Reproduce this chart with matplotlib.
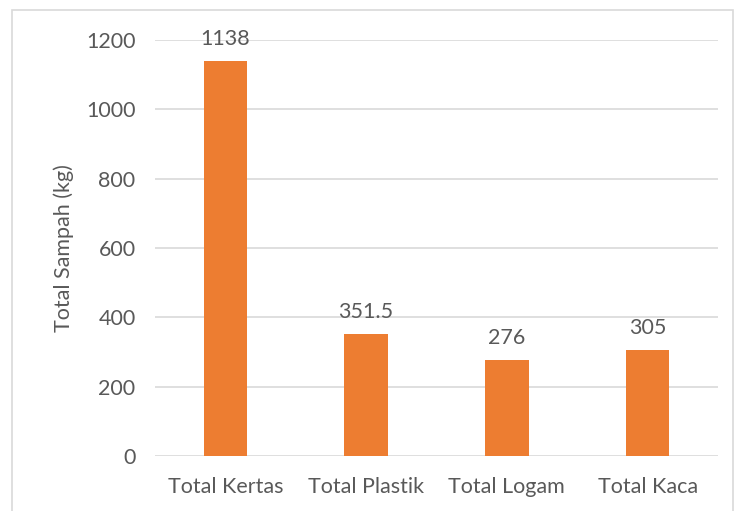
import matplotlib.pyplot as plt
from matplotlib.patches import Rectangle

categories = ["Total Kertas", "Total Plastik", "Total Logam", "Total Kaca"]
values = [1138, 351.5, 276, 305]
labels = ["1138", "351.5", "276", "305"]
yticks = [0, 200, 400, 600, 800, 1000, 1200]

ORANGE = "#ed7d31"
TEXT = "#595959"
GRID = "#d9d9d9"
FS = 15.5

plt.rcParams["font.family"] = ["Lato", "DejaVu Sans"]

fig = plt.figure(figsize=(7.35, 5.11), dpi=100)
ax = fig.add_axes([155 / 735, 1 - 456 / 511, 563 / 735, 416 / 511])

x = range(len(categories))
ax.bar(x, values, width=0.31, color=ORANGE, zorder=3)
for xi, v, lab in zip(x, values, labels):
    ax.annotate(lab, (xi, v), textcoords="offset points", xytext=(0, 9),
                ha="center", va="bottom", fontsize=FS, color=TEXT, clip_on=False)

ax.set_xlim(-0.5, len(categories) - 0.5)
ax.set_ylim(0, 1200)
ax.set_yticks(yticks)
ax.set_xticks(list(x), categories)
ax.tick_params(length=0, labelsize=FS, colors=TEXT)
ax.tick_params(axis="y", pad=14)
ax.tick_params(axis="x", pad=15)
ax.grid(axis="y", color=GRID, linewidth=1.2, zorder=0)
for s in ax.spines.values():
    s.set_visible(False)
ax.set_ylabel("Total Sampah (kg)", fontsize=FS, color=TEXT, labelpad=9)

fig.patches.append(Rectangle((12 / 735, -0.01), 721 / 735, 1 - 10 / 511 + 0.01,
                             transform=fig.transFigure, fill=False,
                             edgecolor=GRID, linewidth=1.2))

fig.savefig("out.png", dpi=100)
